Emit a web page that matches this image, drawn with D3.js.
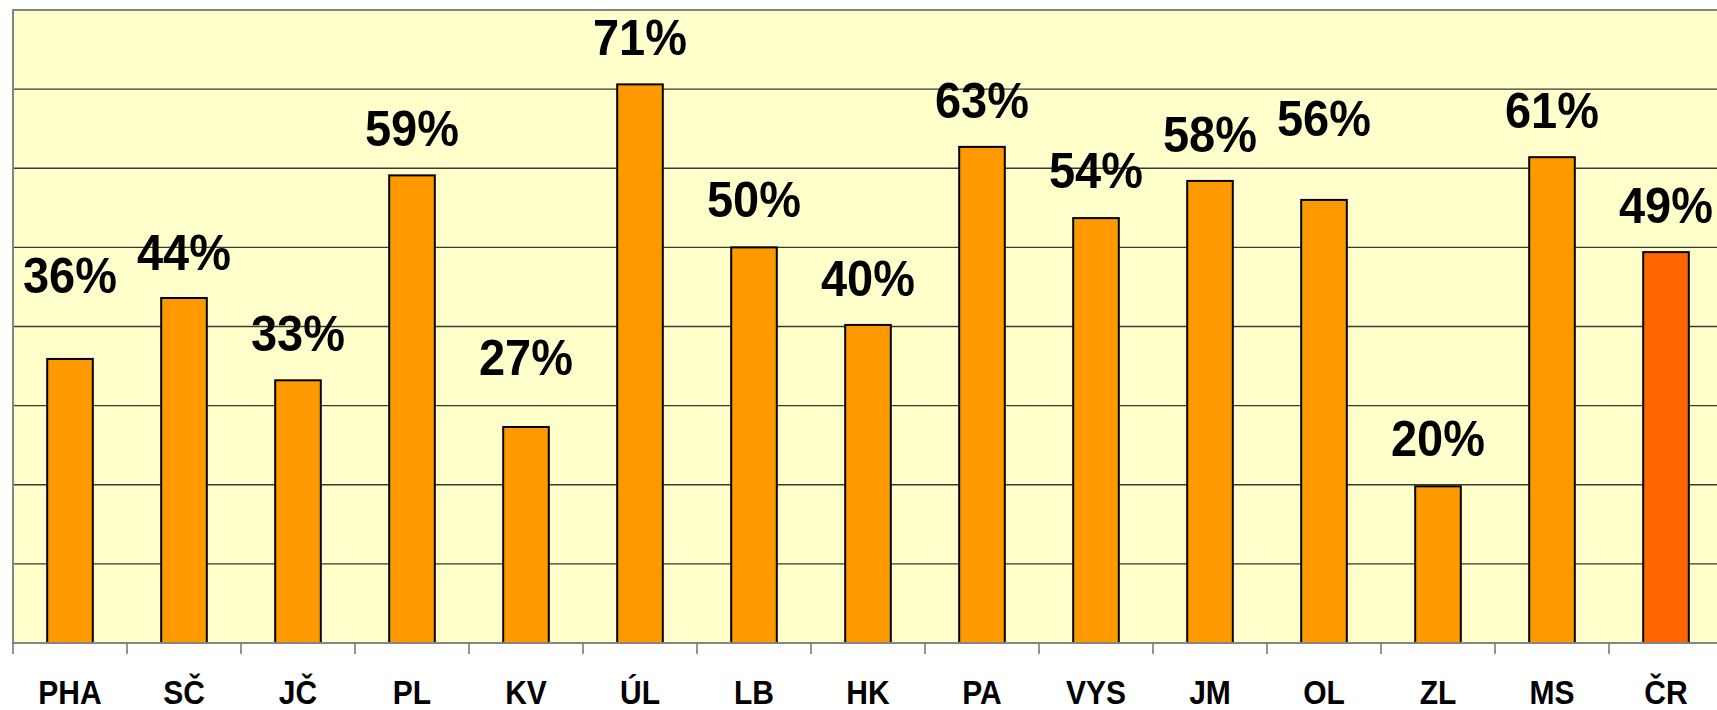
<!DOCTYPE html>
<html>
<head>
<meta charset="utf-8">
<script src="https://cdn.jsdelivr.net/npm/d3@7"></script>
<style>
  html, body { margin: 0; padding: 0; background: #ffffff; }
  svg { display: block; }
</style>
</head>
<body>
<div id="chart"></div>
<script>
// ---- data ----
const categories = ["PHA", "SČ", "JČ", "PL", "KV", "ÚL", "LB", "HK", "PA", "VYS", "JM", "OL", "ZL", "MS", "ČR"];
const values = [35.9, 43.6, 33.2, 59.1, 27.3, 70.6, 50.0, 40.2, 62.7, 53.7, 58.4, 56.0, 19.8, 61.4, 49.4];
const highlight = ["ČR"];
const yTicks = [0, 10, 20, 30, 40, 50, 60, 70, 80];
// manual label placement (pixel gap between bar top and label baseline)
const labelGap = [66, 28, 29, 29, 52, 29, 30, 29, 29, 30, 29, 64, 30, 29, 29];

// ---- layout ----
const W = 1717, H = 710;
const plot = { left: 13, top: 10, bottom: 643, band: 114 };

const svg = d3.select("#chart").append("svg")
  .attr("width", W).attr("height", H);

const x = d3.scaleBand()
  .domain(categories)
  .range([plot.left, plot.left + plot.band * categories.length])
  .paddingInner(0).paddingOuter(0);

const y = d3.scaleLinear()
  .domain([0, 80])
  .range([plot.bottom, plot.top]);

// plot background
svg.append("rect")
  .attr("x", plot.left).attr("y", plot.top)
  .attr("width", x.range()[1] - plot.left)
  .attr("height", plot.bottom - plot.top)
  .attr("fill", "#FFFFCC");

// gridlines
svg.append("g").selectAll("line")
  .data(yTicks.filter(d => d > 0 && d < 80))
  .join("line")
  .attr("x1", plot.left).attr("x2", x.range()[1])
  .attr("y1", d => y(d)).attr("y2", d => y(d))
  .attr("stroke", "#3a3a30").attr("stroke-width", 1.3);

// plot border (top + left)
svg.append("line")
  .attr("x1", plot.left - 1).attr("x2", W)
  .attr("y1", plot.top).attr("y2", plot.top)
  .attr("stroke", "#858585").attr("stroke-width", 2);
svg.append("line")
  .attr("x1", plot.left).attr("x2", plot.left)
  .attr("y1", plot.top).attr("y2", plot.bottom)
  .attr("stroke", "#858585").attr("stroke-width", 2);

// bars
const barW = x.bandwidth() * 0.4;
svg.append("g").selectAll("rect")
  .data(categories)
  .join("rect")
  .attr("x", d => x(d) + (x.bandwidth() - barW) / 2)
  .attr("y", (d, i) => y(values[i]))
  .attr("width", barW)
  .attr("height", (d, i) => y(0) - y(values[i]))
  .attr("fill", d => highlight.includes(d) ? "#FF6600" : "#FF9900")
  .attr("stroke", "#000")
  .attr("stroke-width", 2);

// x axis
const xAxis = d3.axisBottom(x).tickSize(0).tickPadding(0).tickFormat("");
const gx = svg.append("g")
  .attr("transform", `translate(0,${plot.bottom})`)
  .call(xAxis);
gx.select(".domain").attr("stroke", "#858585").attr("stroke-width", 2)
  .attr("d", `M${plot.left - 1},0H${W}`);

// tick marks at band boundaries
const bounds = categories.map(c => x(c)).concat([x.range()[1]]);
gx.selectAll("line.bound")
  .data(bounds)
  .join("line")
  .attr("class", "bound")
  .attr("x1", d => d).attr("x2", d => d)
  .attr("y1", 0).attr("y2", 11)
  .attr("stroke", "#707070").attr("stroke-width", 1.5);

// category labels
svg.append("g").selectAll("text")
  .data(categories)
  .join("text")
  .attr("transform", d => `translate(${x(d) + x.bandwidth() / 2},704) scale(1,1.08)`)
  .attr("text-anchor", "middle")
  .attr("font-family", "'Liberation Sans', Arial, sans-serif")
  .attr("font-weight", "bold")
  .attr("font-size", 30)
  .attr("fill", "#000")
  .text(d => d);

// value labels
const fmt = d3.format(".0f");
svg.append("g").selectAll("text")
  .data(categories)
  .join("text")
  .attr("transform", (d, i) => `translate(${x(d) + x.bandwidth() / 2},${y(values[i]) - labelGap[i]}) scale(1,1.045)`)
  .attr("text-anchor", "middle")
  .attr("font-family", "'Liberation Sans', Arial, sans-serif")
  .attr("font-weight", "bold")
  .attr("font-size", 47)
  .attr("fill", "#000")
  .text((d, i) => fmt(values[i]) + "%");
</script>
</body>
</html>
